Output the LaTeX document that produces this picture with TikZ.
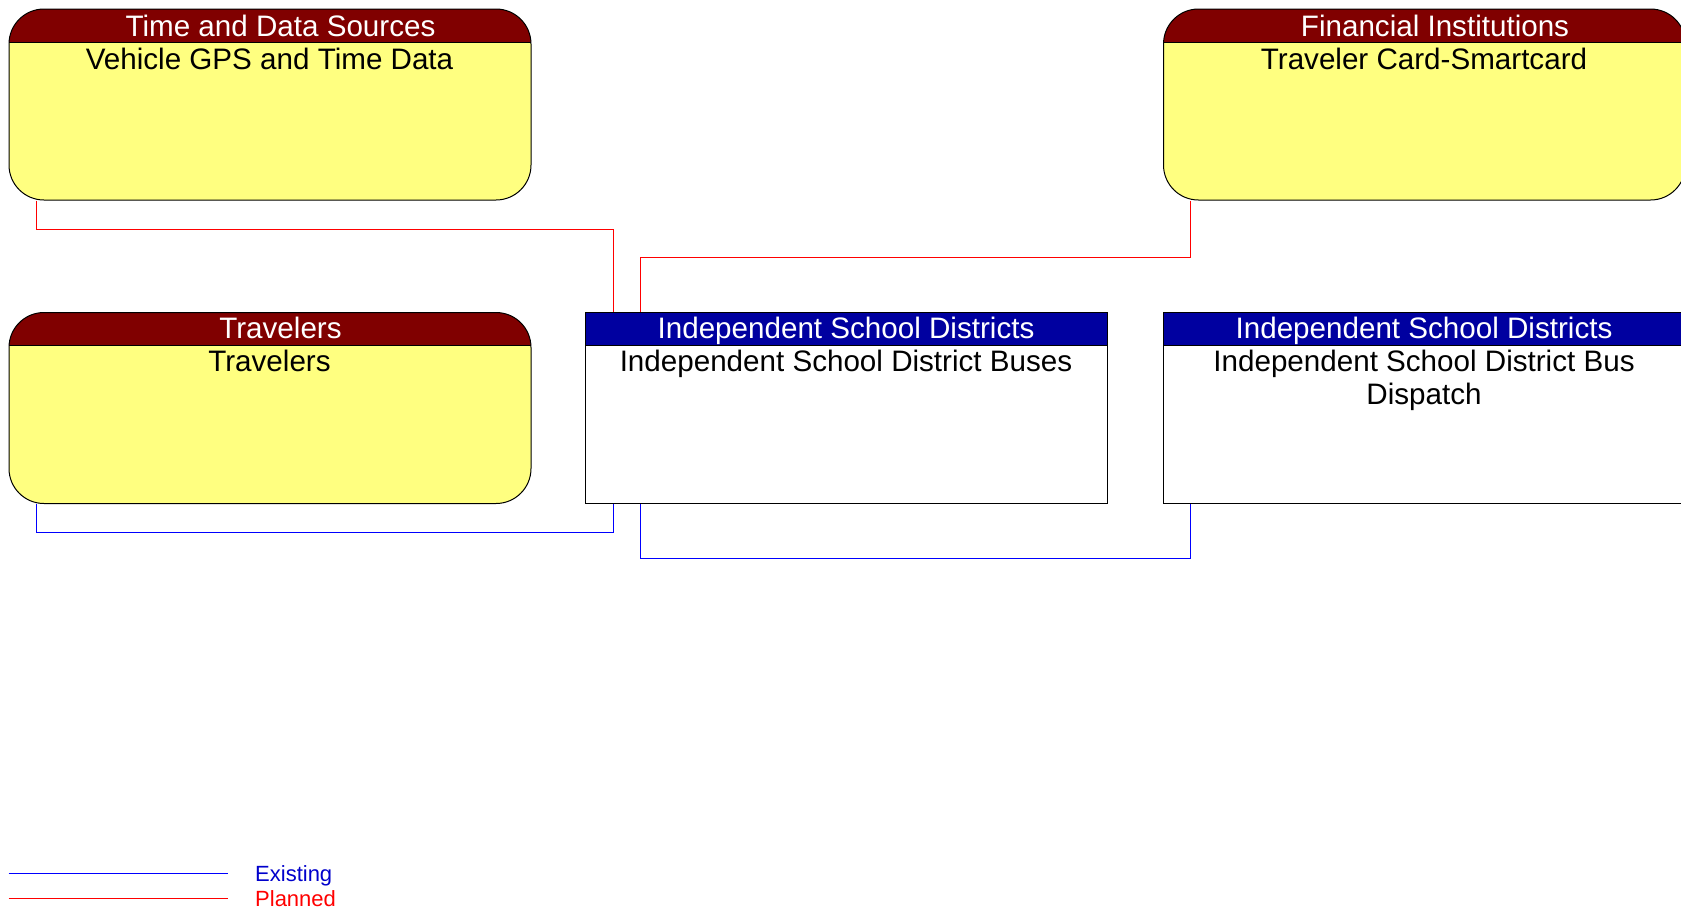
\documentclass[tikz,border=0pt]{standalone}
\usepackage{fontspec}
\setmainfont{Liberation Sans}
\definecolor{termyellow}{RGB}{255,255,128}
\definecolor{hdrred}{RGB}{128,0,0}
\definecolor{hdrblue}{RGB}{0,0,160}
\definecolor{legblue}{RGB}{0,0,204}
\begin{document}
\begin{tikzpicture}[x=1pt,y=-1pt,
  boxbase/.style={draw=black, line width=1pt, minimum width=522pt, minimum height=191pt, inner sep=0pt, anchor=north west},
  ext/.style={boxbase, fill=termyellow, rounded corners=35pt,
    path picture={\fill[hdrred, sharp corners] (path picture bounding box.north west) rectangle ([yshift=-33pt]path picture bounding box.north east);
      \draw[black, line width=0.8pt, sharp corners] ([yshift=-33pt]path picture bounding box.north west) -- ([yshift=-33pt]path picture bounding box.north east);}},
  sys/.style={boxbase, fill=white,
    path picture={\fill[hdrblue] (path picture bounding box.north west) rectangle ([yshift=-33pt]path picture bounding box.north east);
      \draw[black, line width=0.8pt] ([yshift=-33pt]path picture bounding box.north west) -- ([yshift=-33pt]path picture bounding box.north east);}},
  hdr/.style={anchor=base, inner sep=0pt, text=white, font=\fontsize{29.6}{33.2}\selectfont},
  body/.style={anchor=base, inner sep=0pt, text=black, align=center, font=\fontsize{29.6}{33.2}\selectfont},
  planned/.style={draw=red, line width=1pt},
  existing/.style={draw=blue, line width=1pt},
  legtext/.style={anchor=base west, inner sep=0pt, font=\fontsize{22}{26}\selectfont}]
\useasboundingbox (0,0) rectangle (1681,911);
\fill[white] (0,0) rectangle (1681,911);
% boxes
\node[ext] (tds) at (8.5,8.5) {};
\node[ext] (fi) at (1163,8.5) {};
\node[ext] (trav) at (8.5,312) {};
\node[sys] (bus) at (585,312) {};
\node[sys] (disp) at (1163,312) {};
% texts
\node[hdr] (tdsh) at (280.5,36.3) {Time and Data Sources};
\node[body] (tdsb) at (269.5,69.5) {Vehicle GPS and Time Data};
\node[hdr] (fih) at (1435,36.3) {Financial Institutions};
\node[body] (fib) at (1424,69.5) {Traveler Card-Smartcard};
\node[hdr] (travh) at (280.5,338.5) {Travelers};
\node[body] (travb) at (269.5,371.5) {Travelers};
\node[hdr] (bush) at (846,338.5) {Independent School Districts};
\node[body] (busb) at (846,371.5) {Independent School District Buses};
\node[hdr] (disph) at (1424,338.5) {Independent School Districts};
\node[body] (dispb) at (1424,404.7) {Independent School District Bus\\Dispatch};
% connectors
\draw[planned] ([xshift=28pt]tds.south west) -- ++(0,28.5) -| ([xshift=28pt]bus.north west);
\draw[planned] ([xshift=27pt]fi.south west) -- ++(0,56.5) -| ([xshift=55pt]bus.north west);
\draw[existing] ([xshift=28pt]trav.south west) -- ++(0,28) -| ([xshift=28pt]bus.south west);
\draw[existing] ([xshift=55pt]bus.south west) -- ++(0,54.5) -| ([xshift=27pt]disp.south west);
% legend
\coordinate (exa) at (8.6,873);
\coordinate (exb) at (228,873);
\coordinate (pla) at (8.6,898);
\coordinate (plb) at (228,898);
\draw[existing] (exa) -- (exb);
\draw[planned] (pla) -- (plb);
\node[legtext, text=legblue] (exl) at (255,881) {Existing};
\node[legtext, text=red] (pll) at (255,906) {Planned};
\end{tikzpicture}
\end{document}
